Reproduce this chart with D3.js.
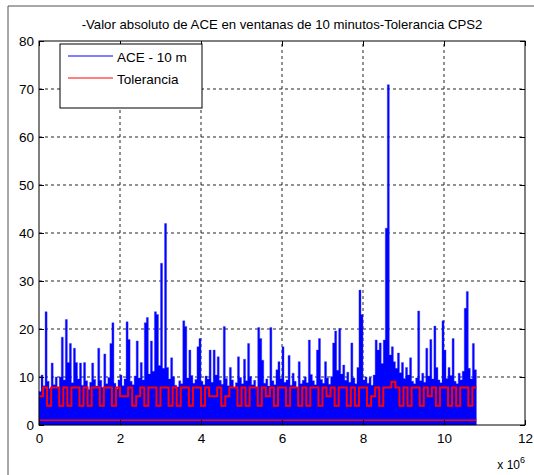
<!DOCTYPE html>
<html>
<head>
<meta charset="utf-8">
<script src="https://cdn.jsdelivr.net/npm/d3@7"></script>
<style>
body { margin: 0; background: #fff; }
svg text { font-family: Arial, "Liberation Sans", sans-serif; fill: #000; }
</style>
</head>
<body>
<svg id="chart" width="534" height="475"></svg>
<script>

var titleText = '-Valor absoluto de ACE en ventanas de 10 minutos-Tolerancia CPS2';
var seriesNames = ['ACE - 10 m', 'Tolerancia'];
var xTicks = [0, 2, 4, 6, 8, 10, 12];
var yTicks = [0, 10, 20, 30, 40, 50, 60, 70, 80];
var xExponent = '6';

// ACE - 10 m, maximo leido cada 0.05 x 10^6 muestras
var aceStep = 0.05;
var ace = [
    7, 10.4, 8.2, 23.6, 9.1, 7.6, 12.9, 8.4, 10, 7.9,
    10, 18.3, 9.4, 22, 13, 17, 8.8, 16, 13, 9.6,
    12.9, 8.3, 13, 9.2, 7.4, 8.9, 12.9, 9.5, 8.1, 16,
    9.3, 7.8, 14.8, 8.6, 9.9, 17, 21.3, 8.7, 7.5, 9.4,
    10.4, 8.2, 9.6, 21.5, 17.8, 9.1, 8.4, 10.2, 17.5, 9.8,
    13, 9.4, 21.3, 22.4, 10.6, 17.5, 11.2, 23.6, 23, 12.4,
    33.7, 11.8, 42, 12, 9.6, 14, 10.1, 8.3, 7.9, 9.2,
    8.6, 21.7, 20.5, 9.8, 15.6, 10.3, 8.7, 9.5, 16.3, 18,
    9.1, 8.4, 10.2, 9.6, 15.6, 8.9, 15.6, 10.4, 14.2, 9.3,
    8.5, 20.5, 9.7, 8.2, 12, 9.4, 7.8, 8.8, 14.2, 9.9,
    8.6, 13.7, 9.2, 17, 10.1, 8.4, 9.3, 7.9, 20.3, 18,
    13.5, 8.7, 9.6, 8.1, 20.3, 9.2, 8.4, 11.5, 13.2, 9.7,
    16.3, 8.9, 9.4, 14.5, 8.3, 10.8, 9.1, 7.8, 13.2, 8.6,
    9.3, 10, 8.8, 17.7, 10.5, 9.2, 8.4, 15.6, 18, 9.5,
    8.7, 13.2, 9.8, 8.5, 10.1, 17.1, 19.6, 11.4, 20.1, 10.6,
    12.5, 9.3, 11, 8.9, 17.1, 9.8, 8.6, 12, 28.1, 23,
    9.4, 10, 8.7, 9.9, 8.3, 10.4, 17.7, 15.6, 17.1, 12.8,
    17.7, 41, 70.9, 14.6, 16.3, 13.2, 11.8, 15, 10.9, 13,
    9.7, 12, 10.4, 14, 9.1, 8.6, 9.8, 23.75, 9.2, 10.8,
    8.9, 16, 10.2, 17.8, 9.6, 20.6, 12, 9.4, 8.8, 21.7,
    15.6, 9.7, 12, 10.3, 18, 9.1, 8.6, 10.8, 9.4, 11.2,
    24.3, 27.8, 11.8, 9.6, 17, 11.5
];

// Tolerancia, cada 0.1 x 10^6 muestras
var tolStep = 0.1;
var tol = [
    6, 7.8, 4, 7.8, 7.8, 4, 7.8, 4, 7.8, 7.8,
    4, 7.8, 4, 7.8, 7.8, 4, 7.8, 7.8, 4, 7.8,
    6, 6, 7.8, 4, 6, 7.8, 4, 7.8, 7.8, 4,
    7.8, 7.8, 4, 7.8, 4, 7.8, 7.8, 4, 7.8, 7.8,
    4, 7.8, 6, 6, 7.8, 4, 6, 7.8, 7.8, 4,
    7.8, 4, 7.8, 7.8, 4, 7.8, 6, 7.8, 4, 7.8,
    7.8, 4, 7.8, 7.8, 4, 7.8, 4, 7.8, 7.8, 4,
    7.8, 6, 7.8, 4, 7.8, 7.8, 4, 7.8, 4, 7.8,
    7.8, 4, 6, 7.8, 4, 7.8, 7.8, 9, 7.8, 4,
    7.8, 4, 7.8, 7.8, 4, 7.8, 6, 7.8, 4, 7.8,
    7.8, 4, 7.8, 4, 7.8, 7.8, 4, 7.8
];
// linea inferior de la tolerancia
var tolBaseX = [0, 10.8];
var tolBase = [1, 1];

var svg = d3.select('#chart');

var x = d3.scaleLinear().domain([0, 12]).range([39, 525]);
var y = d3.scaleLinear().domain([0, 80]).range([425, 41]);

// marco de la figura
svg.append('line')
    .attr('x1', 8).attr('y1', 6).attr('x2', 534).attr('y2', 6)
    .style('stroke', '#505050');
svg.append('line')
    .attr('x1', 8).attr('y1', 6).attr('x2', 8).attr('y2', 475)
    .style('stroke', '#505050');

// grid punteado
var grid = svg.append('g').attr('class', 'grid');
grid.selectAll('line.gx')
    .data(xTicks.slice(1, -1))
    .enter().append('line')
    .attr('class', 'gx')
    .attr('x1', function (d) { return x(d); })
    .attr('x2', function (d) { return x(d); })
    .attr('y1', y(0)).attr('y2', y(80))
    .style('stroke', '#222')
    .style('stroke-dasharray', '3,3');
grid.selectAll('line.gy')
    .data(yTicks.slice(1, -1))
    .enter().append('line')
    .attr('class', 'gy')
    .attr('y1', function (d) { return y(d); })
    .attr('y2', function (d) { return y(d); })
    .attr('x1', x(0)).attr('x2', x(12))
    .style('stroke', '#222')
    .style('stroke-dasharray', '3,3');

// ACE
var acePts = ace.map(function (d, i) { return [i * aceStep, d]; });
acePts.push([ace.length * aceStep, ace[ace.length - 1]]);
svg.append('path')
    .datum(acePts)
    .attr('d', d3.area()
        .curve(d3.curveStepAfter)
        .x(function (d) { return x(d[0]); })
        .y0(y(0))
        .y1(function (d) { return y(d[1]); }))
    .style('fill', '#0000ff')
    .style('stroke', '#3535ff')
    .style('stroke-width', 0.4);

// Tolerancia
var tolPts = tol.map(function (d, i) { return [i * tolStep, d]; });
tolPts.push([tol.length * tolStep, tol[tol.length - 1]]);
var line = d3.line()
    .x(function (d) { return x(d[0]); })
    .y(function (d) { return y(d[1]); });

svg.append('path')
    .datum(tolPts)
    .attr('d', line.curve(d3.curveStepAfter))
    .style('fill', 'none')
    .style('stroke', '#ff0000')
    .style('stroke-width', 2);

svg.append('path')
    .datum(tolBaseX.map(function (d, i) { return [d, tolBase[i]]; }))
    .attr('d', d3.line()
        .x(function (d) { return x(d[0]); })
        .y(function (d) { return y(d[1]); }))
    .style('fill', 'none')
    .style('stroke', '#ff0000')
    .style('stroke-width', 1.6);

// ejes
svg.append('g')
    .attr('transform', 'translate(0,' + y(0) + ')')
    .call(d3.axisBottom(x).tickValues(xTicks).tickSize(-5).tickPadding(8).tickFormat(d3.format('d')));
svg.append('g')
    .attr('transform', 'translate(' + x(0) + ',0)')
    .call(d3.axisLeft(y).tickValues(yTicks).tickSize(-5).tickPadding(5));
svg.append('g')
    .attr('transform', 'translate(0,' + y(80) + ')')
    .call(d3.axisTop(x).tickValues(xTicks).tickSize(-5).tickFormat(''));
svg.append('g')
    .attr('transform', 'translate(' + x(12) + ',0)')
    .call(d3.axisRight(y).tickValues(yTicks).tickSize(-5).tickFormat(''));

svg.selectAll('.domain').remove();
svg.selectAll('.tick line').style('stroke', '#000');
svg.selectAll('.tick text')
    .style('font-size', '13.5px')
    .style('font-family', 'Arial, "Liberation Sans", sans-serif');

svg.append('rect')
    .attr('x', x(0)).attr('y', y(80))
    .attr('width', x(12) - x(0)).attr('height', y(0) - y(80))
    .style('fill', 'none')
    .style('stroke', '#000');

// exponente eje x
svg.append('text')
    .attr('x', 520).attr('y', 469)
    .attr('text-anchor', 'end')
    .style('font-size', '12px')
    .text('x 10');
svg.append('text')
    .attr('x', 520).attr('y', 463)
    .style('font-size', '9px')
    .text(xExponent);

// titulo
svg.append('text')
    .attr('x', (x(0) + x(12)) / 2).attr('y', 29)
    .attr('text-anchor', 'middle')
    .style('font-size', '13.2px')
    .text(titleText);

// leyenda
var legend = svg.append('g');
legend.append('rect')
    .attr('x', 60).attr('y', 44)
    .attr('width', 142).attr('height', 64)
    .style('fill', '#fff')
    .style('stroke', '#000');
var legColors = ['#0000ff', '#ff0000'];
seriesNames.forEach(function (name, i) {
    var ly = 56 + i * 22;
    legend.append('line')
        .attr('x1', 68).attr('x2', 113)
        .attr('y1', ly).attr('y2', ly)
        .style('stroke', legColors[i]);
    legend.append('text')
        .attr('x', 117).attr('y', ly + 6)
        .style('font-size', '13.5px')
        .text(name);
});

</script>
</body>
</html>
